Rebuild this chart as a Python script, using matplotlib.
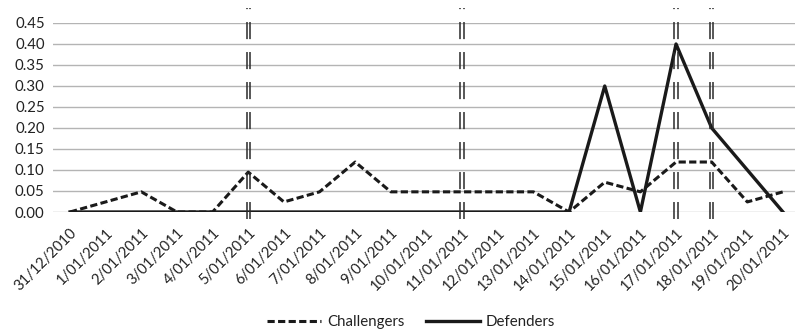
import matplotlib
matplotlib.use("Agg")
import matplotlib.pyplot as plt
from matplotlib import transforms

plt.rcParams['font.family'] = ['Lato', 'DejaVu Sans']
plt.rcParams['lines.scale_dashes'] = False

dates = ["31/12/2010", "1/01/2011", "2/01/2011", "3/01/2011", "4/01/2011",
         "5/01/2011", "6/01/2011", "7/01/2011", "8/01/2011", "9/01/2011",
         "10/01/2011", "11/01/2011", "12/01/2011", "13/01/2011", "14/01/2011",
         "15/01/2011", "16/01/2011", "17/01/2011", "18/01/2011", "19/01/2011",
         "20/01/2011"]
challengers = [0.0, 0.024, 0.048, 0.0, 0.0, 0.095, 0.024, 0.048, 0.119, 0.048,
               0.048, 0.048, 0.048, 0.048, 0.0, 0.071, 0.048, 0.119, 0.119, 0.024,
               0.048]
defenders = [0.0, 0.0, 0.0, 0.0, 0.0, 0.0, 0.0, 0.0, 0.0, 0.0,
             0.0, 0.0, 0.0, 0.0, 0.0, 0.30, 0.0, 0.40, 0.20, 0.10,
             0.0]
marker_dates = ["5/01/2011", "11/01/2011", "17/01/2011", "18/01/2011"]
yticks = [0.00, 0.05, 0.10, 0.15, 0.20, 0.25, 0.30, 0.35, 0.40, 0.45]

W, H = 795, 330
fig = plt.figure(figsize=(W / 100, H / 100), dpi=100)
ax = fig.add_axes([53 / W, (H - 212) / H, (W - 53) / W, (212 - 23) / H])

x = list(range(len(dates)))
grid_c = '#b4b4b4'
for v in yticks:
    ax.axhline(v, color=grid_c, lw=1.0, zorder=1)

ax.plot(x, challengers, color='#1a1a1a', lw=2.2, linestyle=(0, (5.2, 2.4)),
        solid_capstyle='butt', dash_capstyle='butt', zorder=3, label='Challengers')
ax.plot(x, defenders, color='#1a1a1a', lw=2.4, zorder=4, label='Defenders')

# double dashed vertical markers
for d in marker_dates:
    xi = dates.index(d)
    for dx in (-1.75, 1.75):
        tr = transforms.offset_copy(ax.transData, fig=fig, x=dx, y=0, units='dots')
        ax.plot([xi, xi], [0.486, -0.017], transform=tr, color='#2a2a2a', lw=1.1,
                linestyle=(11.5, (12.3, 9.3)), clip_on=False, zorder=5)

ax.set_xlim(-0.477, 20.337)
ax.set_ylim(0, 0.45)
ax.set_yticks(yticks)
ax.set_yticklabels([f"{v:.2f}" for v in yticks], fontsize=10.8, color='#222222')
ax.set_xticks(x)
ax.set_xticklabels(dates, fontsize=10.6, color='#222222', rotation=45,
                   ha='right', va='top', rotation_mode='anchor')
ax.tick_params(axis='both', length=0)
ax.tick_params(axis='y', pad=6)
ax.tick_params(axis='x', pad=10)
for s in ax.spines.values():
    s.set_visible(False)

leg = fig.legend(loc='center', bbox_to_anchor=(411 / W, 1 - 322 / H), ncol=2,
                 frameon=False, fontsize=10.8, handlelength=3.6, handletextpad=0.4,
                 columnspacing=1.4)
for t in leg.get_texts():
    t.set_color('#222222')

fig.savefig('out.png', dpi=100)
